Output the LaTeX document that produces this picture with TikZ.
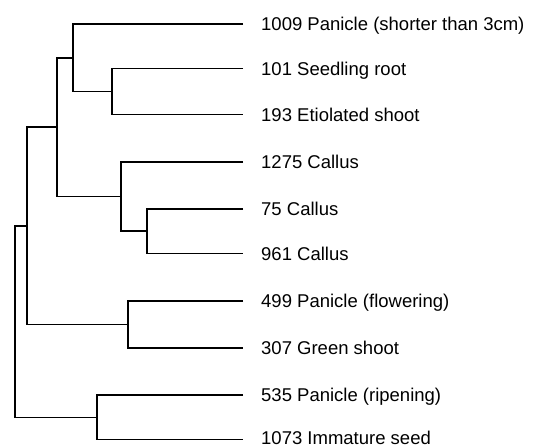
\documentclass[tikz,border=0pt]{standalone}
\usepackage{fontspec}
\setmainfont{Liberation Sans}
\begin{document}
\begin{tikzpicture}[x=1pt,y=-1pt,
  leaf/.style={anchor=base west,inner sep=0pt,yshift=-6.6pt,font=\fontsize{18.5}{20}\selectfont},
  thk/.style={line width=1.6pt},
  thn/.style={line width=1.1pt}]
\useasboundingbox (0,0) rectangle (533,447);
% leaves
\node[leaf] (l1) at (261,24) {1009 Panicle (shorter than 3cm)};
\node[leaf] (l2) at (261,68.5) {101 Seedling root};
\node[leaf] (l3) at (261,114.5) {193 Etiolated shoot};
\node[leaf] (l4) at (261,162) {1275 Callus};
\node[leaf] (l5) at (261,209) {75 Callus};
\node[leaf] (l6) at (261,253.5) {961 Callus};
\node[leaf] (l7) at (261,301) {499 Panicle (flowering)};
\node[leaf] (l8) at (261,348) {307 Green shoot};
\node[leaf] (l9) at (261,395) {535 Panicle (ripening)};
\node[leaf,yshift=2.6pt] (l10) at (261,440) {1073 Immature seed};
% leaf ends
\foreach \i/\y in {1/24,2/68.5,3/114.5,4/162,5/209,6/253.5,7/301,8/348,9/395,10/439.5}
  \coordinate (e\i) at (243,\y);
% internal nodes
\coordinate (A) at (112,91.5);
\coordinate (B) at (73,57.75);
\coordinate (C) at (147,231.25);
\coordinate (D) at (121,196.6);
\coordinate (E) at (57,127);
\coordinate (F) at (128,324.5);
\coordinate (G) at (27,225.8);
\coordinate (H) at (97,417.3);
\coordinate (R) at (15,322);
% A: 101 + 193
\draw[thk] (e2) -| (A);
\draw[thk] (A) |- (e3);
% B: 1009 + A
\draw[thk] (e1) -| (B);
\draw[thn] (B) |- (A);
% C: 75 + 961
\draw[thk] (e5) -| (C);
\draw[thk] (C) |- (e6);
% D: 1275 + C
\draw[thk] (e4) -| (D);
\draw[thk] (D) |- (C);
% E: B + D
\draw[thk] (B) -| (E);
\draw[thk] (E) |- (D);
% F: 499 + 307
\draw[thn] (e7) -| (F);
\draw[thk] (F) |- (e8);
% G: E + F
\draw[thk] (E) -| (G);
\draw[thn] (G) |- (F);
% H: 535 + 1073
\draw[thk] (e9) -| (H);
\draw[thk] (H) |- (e10);
% root: G + H
\draw[thk] (G) -| (R);
\draw[thn] (R) |- (H);
\end{tikzpicture}
\end{document}
